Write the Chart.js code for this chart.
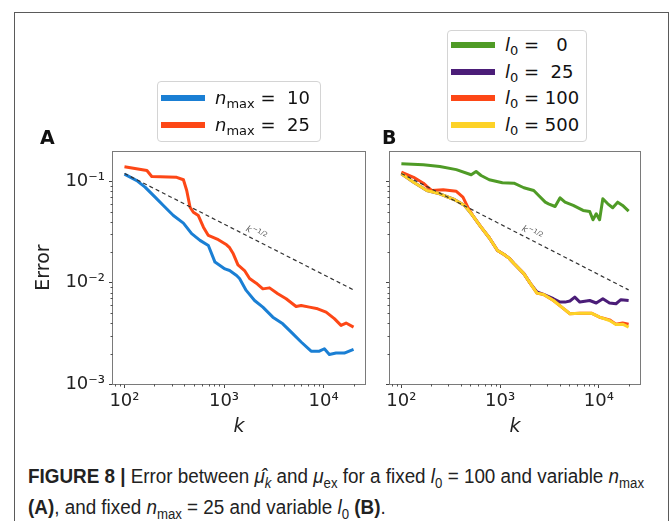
<!DOCTYPE html>
<html>
<head>
<meta charset="utf-8">
<script src="https://cdn.jsdelivr.net/npm/chart.js@4.4.1/dist/chart.umd.min.js"></script>
<style>
  body{margin:0;background:#fff;width:669px;height:521px;overflow:hidden;position:relative;font-family:'DejaVu Sans',sans-serif;color:#111}
  #frame{position:absolute;left:14px;top:12px;width:655px;height:540px;border:1.5px solid #5a5a5a;box-sizing:border-box}
  canvas{position:absolute;top:0}
  #cA{left:0}
  #cB{left:380px}
  .lg{position:absolute;border:1px solid #d4d4d4;border-radius:4px;background:#fff;font-size:18px;box-sizing:border-box}
  .row{display:flex;align-items:center;height:26.5px}
  .tx{white-space:pre;line-height:20px}
  .sw{display:inline-block;width:44px;height:6px;margin:0 10px 0 3px;flex:none}
  .tx sub{font-size:13px;line-height:0;vertical-align:-4px}
  .pl{position:absolute;font-weight:bold;font-size:19px;line-height:22px}
  #cap{position:absolute;left:28px;top:461px;font-family:'Liberation Sans',Arial,sans-serif;font-size:20px;line-height:31px;color:#222;white-space:nowrap;transform-origin:0 0}
  #cap span{display:inline-block}
  #cap sub{font-size:14px;line-height:0}
</style>
</head>
<body>
<div id="frame"></div>
<canvas id="cA" width="380" height="450"></canvas>
<canvas id="cB" width="289" height="450"></canvas>
<div class="pl" style="left:40px;top:126px">A</div>
<div class="pl" style="left:382px;top:126px">B</div>
<div id="lgA" class="lg" style="left:157px;top:81px;width:164px;height:61px;padding-top:3px"></div>
<div id="lgB" class="lg" style="left:447px;top:30px;width:140px;height:112px;padding-top:1px"></div>
<div id="cap"><span id="capl1"><b>FIGURE 8 |</b> Error between <i>μ̂</i><sub><i>k</i></sub> and <i>μ</i><sub>ex</sub> for a fixed <i>l</i><sub>0</sub> = 100 and variable <i>n</i><sub>max</sub></span><br><span><b>(A)</b>, and fixed <i>n</i><sub>max</sub> = 25 and variable <i>l</i><sub>0</sub> <b>(B)</b>.</span></div>
<script>
// axes
const kRange = [76.7, 26070];
const errRange = [0.001, 0.2];
const kTicks = [100, 1000, 10000];
const kTickLabels = ['10²', '10³', '10⁴'];
const errTicks = [0.001, 0.01, 0.1];
const errTickLabels = ['10⁻³', '10⁻²', '10⁻¹'];

// legend values
const nmaxValues = [10, 25];
const l0Values = [0, 25, 100, 500];

// k^-1/2 guide
const refK = [100, 20000];
const refErr = [0.12, 0.0085];
const refLabelK = 1950;

// panel A: n_max = 10
const kA10 = [100, 133, 161, 203, 256, 310, 391, 473, 574, 696, 811, 1021, 1138, 1337, 1432, 1670, 2027, 2455, 3092, 3894, 4902, 5952, 7500, 9080, 10190, 11430, 13340, 16150, 20000];
const errA10 = [0.118, 0.102, 0.088, 0.070, 0.0557, 0.0461, 0.0388, 0.0305, 0.0262, 0.0233, 0.016, 0.0137, 0.0132, 0.0118, 0.011, 0.0084, 0.00668, 0.00574, 0.00457, 0.00393, 0.00314, 0.0026, 0.00211, 0.00211, 0.00223, 0.00196, 0.00202, 0.00202, 0.0022];
// panel A: n_max = 25
const kA25 = [100, 168, 188, 335, 391, 422, 456, 492, 552, 621, 696, 877, 1061, 1138, 1239, 1380, 1607, 1806, 2108, 2455, 2864, 3470, 4207, 5296, 5952, 7213, 8730, 10600, 12830, 14970, 16820, 20000];
const errA25 = [0.14, 0.1285, 0.112, 0.110, 0.104, 0.0815, 0.0557, 0.0497, 0.0461, 0.0354, 0.0293, 0.0266, 0.0237, 0.0222, 0.0193, 0.0150, 0.0132, 0.011, 0.0099, 0.0087, 0.0089, 0.0078, 0.00695, 0.00583, 0.00597, 0.00574, 0.00553, 0.00513, 0.00442, 0.00379, 0.0040, 0.00365];

// panel B: l0 = 0
const kB0 = [100, 167, 245, 360, 509, 571, 641, 776, 1054, 1380, 1738, 2188, 2455, 2864, 3090, 3604, 4044, 4538, 5495, 6918, 8070, 8710, 9400, 10160, 10960, 12300, 13800, 15490, 17380, 20000];
const errB0 = [0.150, 0.146, 0.1406, 0.131, 0.1165, 0.1255, 0.1145, 0.104, 0.097, 0.0962, 0.0867, 0.0815, 0.0727, 0.0625, 0.0602, 0.0566, 0.069, 0.0625, 0.058, 0.0518, 0.0506, 0.0419, 0.048, 0.0419, 0.0675, 0.0602, 0.055, 0.0625, 0.058, 0.051];
// panel B: l0 = 25
const kB25 = [100, 133, 181, 245, 347, 437, 528, 641, 776, 940, 1096, 1230, 1380, 1738, 2027, 2360, 2754, 3467, 4040, 4540, 5090, 5700, 6410, 8070, 9400, 10960, 12800, 14900, 16700, 20000];
const errB25 = [0.119, 0.0985, 0.0815, 0.0756, 0.066, 0.058, 0.0461, 0.0354, 0.0278, 0.0208, 0.019, 0.0175, 0.0155, 0.0123, 0.0098, 0.0081, 0.00767, 0.00695, 0.00644, 0.00644, 0.0066, 0.00721, 0.00644, 0.00668, 0.00631, 0.00695, 0.00631, 0.0062, 0.0068, 0.00668];
// panel B: l0 = 100
const kB100 = [100, 133, 167, 181, 203, 265, 360, 420, 471, 528, 641, 776, 940, 1096, 1230, 1380, 1738, 2027, 2360, 2754, 3467, 4200, 5090, 6410, 8380, 10160, 12800, 14900, 17380, 20000];
const errB100 = [0.1236, 0.110, 0.0962, 0.0893, 0.0815, 0.0828, 0.080, 0.070, 0.0557, 0.0461, 0.0354, 0.0278, 0.0208, 0.019, 0.0175, 0.0155, 0.0123, 0.0098, 0.0079, 0.00767, 0.00668, 0.00574, 0.00494, 0.0050, 0.0050, 0.00457, 0.0043, 0.0039, 0.0040, 0.0039];
// panel B: l0 = 500
const kB500 = [100, 133, 181, 245, 347, 437, 528, 641, 776, 940, 1096, 1230, 1380, 1738, 2027, 2360, 2754, 3467, 4200, 5090, 6410, 8380, 10160, 12800, 14900, 17380, 20000];
const errB500 = [0.119, 0.0985, 0.0815, 0.0756, 0.066, 0.058, 0.0461, 0.0354, 0.0278, 0.0208, 0.019, 0.0175, 0.0155, 0.0123, 0.0098, 0.0079, 0.00767, 0.00668, 0.00574, 0.00494, 0.0050, 0.0050, 0.00457, 0.00424, 0.00387, 0.0039, 0.00365];

const BLUE = '#1a7fd4', RED = '#fd4716', GREEN = '#4f9b26', PURPLE = '#4b1d78', YELLOW = '#fdd227';

Chart.defaults.font.family = "'DejaVu Sans', sans-serif";
Chart.defaults.color = '#222';

const pts = (xs, ys) => xs.map((x, i) => ({x, y: ys[i]}));
const line = (label, xs, ys, color, order, value) => ({
  label, data: pts(xs, ys), borderColor: color, backgroundColor: color,
  borderWidth: 3, pointRadius: 0, tension: 0, borderJoinStyle: 'round', order, legendValue: value
});
const refLine = () => ({
  label: 'k^-1/2', data: pts(refK, refErr), borderColor: '#333', borderWidth: 1.2,
  borderDash: [4, 3], pointRadius: 0, order: -1, isRef: true
});

// frame round the plot area
const frame = {
  id: 'frame',
  afterDraw(chart){
    const {ctx, chartArea: a} = chart;
    ctx.save();
    ctx.strokeStyle = '#7a7a7a'; ctx.lineWidth = 1;
    ctx.strokeRect(a.left - 0.5, a.top + 0.5, a.right - a.left + 1, a.bottom - a.top);
    ctx.restore();
  }
};

// small log ticks between the decades
const minorTicks = {
  id: 'minorTicks',
  afterDraw(chart){
    const {ctx, chartArea: a, scales: {x, y}} = chart;
    ctx.save();
    ctx.strokeStyle = '#555'; ctx.lineWidth = 1;
    ctx.beginPath();
    for (let e = -4; e <= 5; e++) {
      for (let j = 2; j <= 9; j++) {
        const v = j * Math.pow(10, e);
        if (v > x.min && v < x.max) {
          const p = Math.round(x.getPixelForValue(v)) + 0.5;
          ctx.moveTo(p, a.bottom); ctx.lineTo(p, a.bottom + 2.5);
        }
        if (v > y.min && v < y.max) {
          const p = Math.round(y.getPixelForValue(v)) + 0.5;
          ctx.moveTo(a.left - 2.5, p); ctx.lineTo(a.left, p);
        }
      }
    }
    ctx.stroke();
    ctx.restore();
  }
};

// k^-1/2 note along the dashed line
const slopeLabel = {
  id: 'slopeLabel',
  afterDatasetsDraw(chart){
    const i = chart.data.datasets.findIndex(d => d.isRef);
    if (i < 0) return;
    const [p0, p1] = chart.getDatasetMeta(i).data;
    const px = chart.scales.x.getPixelForValue(refLabelK);
    const t = (px - p0.x) / (p1.x - p0.x);
    const py = p0.y + t * (p1.y - p0.y);
    const ang = Math.atan2(p1.y - p0.y, p1.x - p0.x);
    const ctx = chart.ctx;
    ctx.save();
    ctx.translate(px, py);
    ctx.rotate(ang);
    ctx.fillStyle = '#555';
    ctx.textBaseline = 'alphabetic';
    ctx.font = "italic 9px 'DejaVu Sans'";
    const w1 = ctx.measureText('k').width;
    ctx.font = "6.5px 'DejaVu Sans'";
    const w2 = ctx.measureText('−1/2').width;
    const x0 = -(w1 + w2) / 2;
    ctx.font = "italic 9px 'DejaVu Sans'";
    ctx.fillText('k', x0, -4);
    ctx.font = "6.5px 'DejaVu Sans'";
    ctx.fillText('−1/2', x0 + w1 + 0.5, -7.5);
    ctx.restore();
  }
};

function xAxis(){
  return {
    type: 'logarithmic', min: kRange[0], max: kRange[1],
    afterBuildTicks: s => { s.ticks = kTicks.map(v => ({value: v})); },
    afterFit: s => { s.height = 66; },
    ticks: {callback: v => kTickLabels[kTicks.indexOf(v)] ?? '', font: {size: 18}, color: '#222', padding: 3, maxRotation: 0, autoSkip: false},
    grid: {drawOnChartArea: false, tickLength: 4, tickColor: '#444'},
    border: {display: false},
    title: {display: true, text: 'k', font: {size: 19, style: 'italic'}, color: '#222', padding: {top: 0, bottom: 12}}
  };
}
function yAxis(labels, width){
  return {
    type: 'logarithmic', min: errRange[0], max: errRange[1],
    afterBuildTicks: s => { s.ticks = errTicks.map(v => ({value: v})); },
    afterFit: s => { s.width = width; },
    ticks: {display: labels, callback: v => errTickLabels[errTicks.indexOf(v)] ?? '', font: {size: 18}, color: '#222', padding: 4, autoSkip: false},
    grid: {drawOnChartArea: false, tickLength: 4, tickColor: '#444'},
    border: {display: false},
    title: {display: labels, text: 'Error', font: {size: 19}, color: '#222', padding: {top: 33, bottom: 0}}
  };
}
function opts(padRight, yLabels, yWidth){
  return {
    responsive: false, animation: false,
    layout: {padding: {top: 151, right: padRight, bottom: 0, left: 0}},
    plugins: {legend: {display: false}, tooltip: {enabled: false}},
    scales: {x: xAxis(), y: yAxis(yLabels, yWidth)}
  };
}

const chartA = new Chart(document.getElementById('cA'), {
  type: 'line',
  data: {datasets: [
    line('n_max = 10', kA10, errA10, BLUE, 1, nmaxValues[0]),
    line('n_max = 25', kA25, errA25, RED, 0, nmaxValues[1]),
    refLine()
  ]},
  options: opts(15, true, 113),
  plugins: [frame, minorTicks, slopeLabel]
});

const chartB = new Chart(document.getElementById('cB'), {
  type: 'line',
  data: {datasets: [
    line('l0 = 0', kB0, errB0, GREEN, 3, l0Values[0]),
    line('l0 = 25', kB25, errB25, PURPLE, 2, l0Values[1]),
    line('l0 = 100', kB100, errB100, RED, 1, l0Values[2]),
    line('l0 = 500', kB500, errB500, YELLOW, 0, l0Values[3]),
    refLine()
  ]},
  options: opts(29, false, 10),
  plugins: [frame, minorTicks, slopeLabel]
});

// html legends built from the datasets
function buildLegend(id, chart, sym, sub){
  const el = document.getElementById(id);
  el.innerHTML = chart.data.datasets.filter(d => !d.isRef).map(d =>
    `<div class="row"><span class="sw" style="background:${d.borderColor}"></span><span class="tx"><i>${sym}</i><sub>${sub}</sub> = ${String(d.legendValue).padStart(3, ' ')}</span></div>`
  ).join('');
}
buildLegend('lgA', chartA, 'n', 'max');
buildLegend('lgB', chartB, 'l', '0');

// squeeze the caption to the width of the original
const cap = document.getElementById('cap');
const w1 = document.getElementById('capl1').getBoundingClientRect().width;
cap.style.transform = `scaleX(${616 / w1})`;
</script>
</body>
</html>
